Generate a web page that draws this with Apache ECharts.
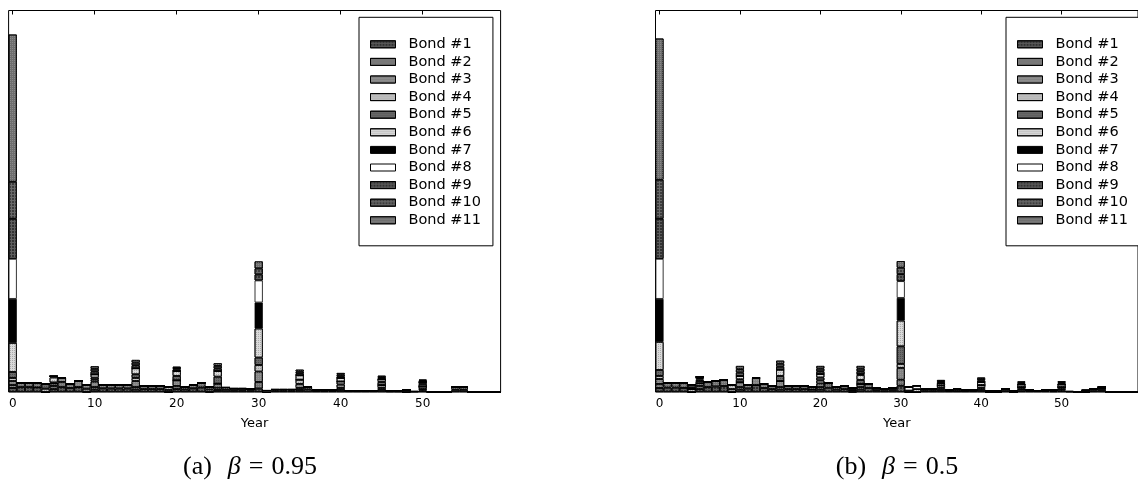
<!DOCTYPE html>
<html><head><meta charset="utf-8">
<script src="https://cdn.jsdelivr.net/npm/echarts@6/dist/echarts.min.js"></script>
<style>html,body{margin:0;padding:0;background:#fff;}#chart{width:1138px;height:487px;}</style>
</head><body><div id="chart"></div>
<script>
// ---------------- DATA ----------------
const years = [0,1,2,3,4,5,6,7,8,9,10,11,12,13,14,15,16,17,18,19,20,21,22,23,24,25,26,27,28,29,
  30,31,32,33,34,35,36,37,38,39,40,41,42,43,44,45,46,47,48,49,50,51,52,53,54,55,56,57,58,59];
const bondNames = ['Bond #1','Bond #2','Bond #3','Bond #4','Bond #5','Bond #6','Bond #7','Bond #8','Bond #9','Bond #10','Bond #11'];
const tickLabels = [0,10,20,30,40,50];
const xName = 'Year';
const captionA = ['(a)', 'β', '= 0.95'];
const captionB = ['(b)', 'β', '= 0.5'];

// panel (a) beta = 0.95 : [year, amount]
const a_bond1 = [[0,4],[1,5],[2,5],[3,4.7],[5,3],[6,5],[7,4],[8,5],[10,2.5],[11,3.6],[12,3.5],[13,3.5],[14,3.5],[15,2.5],[16,3],[17,3],[18,3],[20,3],[21,2.6],[22,3.6],[23,4.6],[25,2],[26,2.2],[27,1.7],[28,1.7],[29,1.6],[30,3.4],[32,1.2],[33,1.2],[34,1.2],[35,2],[36,2.6],[37,1],[38,1],[39,1.1],[40,2],[41,1.3],[42,1.3],[43,1.3],[44,1.3],[45,2],[46,0.7],[47,0.7],[49,0.5],[50,1.5],[51,0.3],[52,0.3],[53,0.3],[54,2.2],[55,2.2]];
const a_bond2 = [[0,3],[1,4.3],[2,4.3],[5,3],[6,5],[7,4.3],[9,3.3],[10,2.5],[11,3.7],[12,3.5],[13,3.5],[14,3.5],[15,2.5],[16,3.3],[17,3.3],[18,3],[20,3],[21,2.7],[22,3.7],[23,4.7],[24,2.5],[25,2.3],[26,2.3],[27,1.8],[28,1.8],[29,1.7],[30,6.6],[32,1.3],[33,1.3],[34,1.3],[35,2],[36,2.6],[37,1],[38,1],[39,1.1],[40,2],[45,2],[50,1.5],[54,2.5],[55,2.5]];
const a_bond3 = [[0,4],[3,4],[5,2.5],[6,4.3],[8,6],[9,4],[10,5.3],[15,6],[19,2],[20,5.7],[24,2.5],[25,4],[30,10.4],[35,4],[40,3.5],[45,3],[48,2.3],[50,2.5]];
const a_bond4 = [[0,3],[4,3.3],[10,2],[15,3],[19,3.3],[30,6.6],[35,4.3],[40,3]];
const a_bond5 = [[0,6],[4,4.7],[5,1],[10,2],[15,3.7],[20,4.3],[25,7],[30,7.4],[45,3],[50,2.5]];
const a_bond6 = [[0,29],[5,5],[10,3.3],[15,6],[20,5],[25,5.7],[30,29],[35,4.4],[40,3.5],[45,2.6],[50,2]];
const a_bond7 = [[0,44],[5,1.2],[30,26]];
const a_bond8 = [[0,40],[30,22],[31,1.5]];
const a_bond9 = [[0,40],[10,3],[15,3],[20,1.5],[25,2.6],[30,6],[35,2],[40,1.7],[45,1.2],[50,0.8]];
const a_bond10 = [[0,37],[10,2.5],[15,2.6],[20,1.4],[25,2.5],[30,6],[35,1.8],[40,1.6],[45,1.2],[50,0.7]];
const a_bond11 = [[0,147],[10,2.6],[15,2.7],[20,1.4],[25,2.6],[30,7],[35,1.8],[40,1.7],[45,1.3],[50,0.8]];

// panel (b) beta = 0.5 : [year, amount]
const b_bond1 = [[0,4],[1,4.5],[2,4.5],[3,4.3],[5,3],[6,5],[7,5.5],[8,6],[10,2.5],[11,3.5],[12,7],[13,4],[14,3],[15,2.5],[16,3],[17,3],[18,3],[19,2.5],[20,2.5],[21,4.3],[22,2.5],[23,3],[25,2.5],[26,4],[27,1.8],[28,1.5],[29,2],[30,6.3],[33,1.3],[34,1.3],[35,2],[36,1],[37,1.3],[38,1],[39,1],[40,2],[43,1.5],[45,1.5],[46,1.1],[47,1],[48,1],[49,0.8],[50,1.5],[51,0.5],[52,0.3],[54,1.5],[55,2]];
const b_bond2 = [[0,4],[1,4.5],[2,4.5],[5,3],[6,5],[7,5.5],[8,6],[10,2.5],[11,3.5],[13,4],[14,3],[15,2.5],[16,3],[17,3],[18,3],[20,2.5],[21,4.4],[22,2.5],[23,3],[24,2],[25,2.5],[26,4],[27,1.9],[28,1.5],[29,2],[30,6],[33,1.4],[34,1.4],[35,2],[36,1],[38,1],[39,1],[40,2],[43,1.5],[45,1.5],[46,1.2],[48,1],[49,0.9],[50,1.5],[54,1.5],[55,2]];
const b_bond3 = [[0,5],[3,4.4],[5,2.7],[9,3],[10,4.7],[12,7],[15,6],[19,2.5],[20,3.5],[25,3],[30,11.7],[35,2.5],[40,3],[45,2],[50,2]];
const b_bond4 = [[0,3],[4,3],[9,4],[20,3],[24,2],[30,4],[31,1.5],[37,1.4]];
const b_bond5 = [[0,6],[5,2.3],[10,3],[15,5],[20,3],[25,4],[30,17.6]];
const b_bond6 = [[0,28],[5,1.3],[10,3.3],[15,6.3],[20,3.5],[25,5],[30,25.7],[32,3],[35,2],[40,3],[45,2.5],[50,2.5]];
const b_bond7 = [[0,43],[4,1.3],[5,2.7],[25,1],[30,22.7],[41,1.3],[42,1.3],[44,1.3],[53,1.7],[55,1]];
const b_bond8 = [[0,40],[30,16.7],[31,3.5],[32,3.3]];
const b_bond9 = [[0,40],[4,3],[10,3.5],[15,3],[20,2.7],[25,2.7],[30,7],[35,1.2],[40,1.5],[45,1],[50,1.1]];
const b_bond10 = [[0,39],[10,3.3],[15,3],[20,2.6],[25,2.6],[30,6.5],[35,1.1],[40,1.5],[45,1],[50,1]];
const b_bond11 = [[0,141],[10,3.2],[15,3],[20,2.7],[25,2.7],[30,6.5],[35,1.2],[40,1.5],[45,1],[50,1.1]];

// ---------------- STYLE ----------------
const bondStyles = [
  {color:'#5c5c5c', decal:{color:'#303030', dashArrayX:[2,1], dashArrayY:[2,1]}},
  {color:'#727272', decal:{color:'#8e8e8e', dashArrayX:[1,1], dashArrayY:[1,1]}},
  {color:'#848484', decal:{color:'#969696', dashArrayX:[1,1], dashArrayY:[1,1]}},
  {color:'#c6c6c6', decal:{color:'#9a9a9a', dashArrayX:[1,1], dashArrayY:[1,1]}},
  {color:'#6a6a6a', decal:{color:'#4c4c4c', dashArrayX:[1,1], dashArrayY:[1,1]}},
  {color:'#dadada', decal:{color:'#ababab', dashArrayX:[1,1], dashArrayY:[1,1]}},
  {color:'#000000', decal:null},
  {color:'#ffffff', decal:null},
  {color:'#5e5e5e', decal:{color:'#333333', dashArrayX:[2,1], dashArrayY:[2,1]}},
  {color:'#6a6a6a', decal:{color:'#3e3e3e', dashArrayX:[2,1], dashArrayY:[2,1]}},
  {color:'#6e6e6e', decal:{color:'#8a8a8a', dashArrayX:[1,1], dashArrayY:[1,1]}}
];
const panels = [
  {data:[a_bond1,a_bond2,a_bond3,a_bond4,a_bond5,a_bond6,a_bond7,a_bond8,a_bond9,a_bond10,a_bond11], grid:{left:8.6, top:10.5, width:492, height:381.5}, legendLeft:359, caption:captionA, capX:250},
  {data:[b_bond1,b_bond2,b_bond3,b_bond4,b_bond5,b_bond6,b_bond7,b_bond8,b_bond9,b_bond10,b_bond11], grid:{left:655.5, top:10.5, width:492, height:381.5}, legendLeft:1006, caption:captionB, capX:897}
];
const yMax = 381;
const FONT = 'DejaVu Sans';

function dense(pairs){
  const m = new Map(pairs);
  return years.map(y => (m.has(y) ? m.get(y) : 0));
}
const isTick = (idx) => tickLabels.indexOf(years[idx]) >= 0;

const grid = [], xAxis = [], yAxis = [], series = [], legend = [], graphic = [];
panels.forEach((p, pi) => {
  grid.push(Object.assign({show:true, borderColor:'#000', borderWidth:1, backgroundColor:'rgba(0,0,0,0)'}, p.grid));
  xAxis.push({type:'category', gridIndex:pi, data:years, position:'bottom', boundaryGap:true,
    axisLine:{show:false}, splitLine:{show:false},
    axisTick:{show:true, inside:true, length:4, alignWithLabel:true, interval:isTick, lineStyle:{color:'#000', width:1}},
    axisLabel:{interval:isTick, color:'#000', fontSize:12, fontFamily:FONT, margin:6},
    name:xName, nameLocation:'middle', nameGap:25, nameTextStyle:{color:'#000', fontSize:13, fontFamily:FONT}});
  xAxis.push({type:'category', gridIndex:pi, data:years, position:'top', boundaryGap:true,
    axisLine:{show:false}, splitLine:{show:false},
    axisTick:{show:true, inside:true, length:4, alignWithLabel:true, interval:isTick, lineStyle:{color:'#000', width:1}},
    axisLabel:{show:false}});
  yAxis.push({type:'value', gridIndex:pi, min:0, max:yMax, show:false, splitLine:{show:false}});
  p.data.forEach((pairs, bi) => {
    const st = bondStyles[bi];
    const itemStyle = {color:st.color, borderColor:'#000', borderWidth:0.8};
    if (st.decal) itemStyle.decal = Object.assign({symbol:'rect', symbolSize:1}, st.decal);
    series.push({type:'bar', name:bondNames[bi], xAxisIndex:pi*2, yAxisIndex:pi, stack:'s'+pi,
      barCategoryGap:'0%', data:dense(pairs), itemStyle, emphasis:{disabled:true}, silent:true});
  });
  legend.push({data:bondNames, orient:'vertical', left:p.legendLeft, top:17.3, selectedMode:false,
    backgroundColor:'#fff', borderColor:'#000', borderWidth:1, borderRadius:0,
    padding:[19.5,12,18,11], itemWidth:25, itemHeight:7, itemGap:2.6, icon:'rect',
    itemStyle:{borderColor:'#000', borderWidth:1},
    textStyle:{color:'#000', fontSize:14.5, fontFamily:FONT, lineHeight:15, padding:[0,0,0,8]}});
  graphic.push({type:'text', x:p.capX, y:467, style:{
    text:'{n|' + p.caption[0] + '}{s|}{i|' + p.caption[1] + '}{e|=}{n|' + p.caption[2].replace('= ', '') + '}',
    align:'center', verticalAlign:'middle', fill:'#000',
    rich:{n:{fontSize:26, fontFamily:'Liberation Serif', fill:'#000'},
          s:{width:16},
          e:{fontSize:26, fontFamily:'Liberation Serif', fill:'#000', padding:[0,8,0,8]},
          i:{fontSize:26, fontFamily:'Liberation Serif', fontStyle:'italic', fill:'#000'}}}});
});

const chart = echarts.init(document.getElementById('chart'), null, {renderer:'canvas'});
chart.setOption({animation:false, backgroundColor:'#fff', grid, xAxis, yAxis, series, legend, graphic});
</script></body></html>
